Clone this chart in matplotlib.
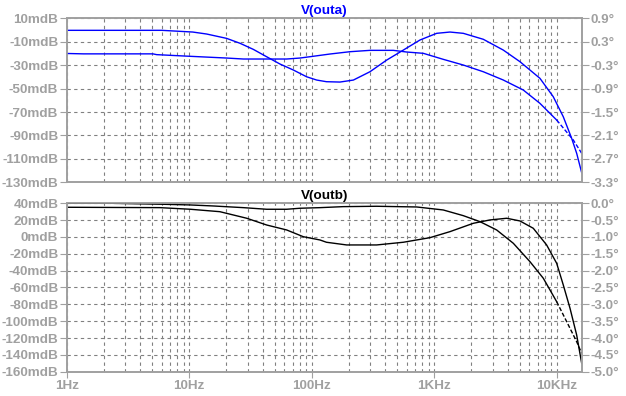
import numpy as np
import matplotlib
matplotlib.use("Agg")
import matplotlib.pyplot as plt
from matplotlib.ticker import FixedLocator, FixedFormatter, LogLocator, NullFormatter

# V(outa): magnitude (mdB) and phase (deg)
freq_a_mag = [1, 5.96, 10.7, 13.9, 20.2, 26.0, 33.4, 42.9, 55.1, 70.8, 91.0, 110, 132, 170, 219,
              299, 410, 560, 766, 1048, 1345, 1729, 2519, 3666, 5012, 7299, 9376, 11320, 13250,
              14560, 16000]
mag_a = [-0.24, -0.24, -1.7, -3.4, -7.1, -11.3, -16.5, -22.8, -29.0, -34.1, -39.9, -42.7, -44.1,
         -44.4, -42.7, -35.6, -25.6, -17.1, -8.5, -2.8, -1.7, -2.8, -7.9, -17.1, -27.0, -41.2,
         -56.9, -74.0, -92.4, -105.2, -121.8]
freq_a_ph = [1, 1.37, 5.06, 5.43, 9.24, 20.2, 27.7, 62.5, 80.2, 96.9, 141, 205, 299, 464, 597,
             815, 1186, 1729, 2519, 3666, 5338, 7299, 10000, 13670, 16000]
phase_a = [0.0, -0.01, -0.01, -0.03, -0.066, -0.117, -0.142, -0.142, -0.117, -0.083, -0.014,
           0.045, 0.080, 0.080, 0.037, 0.004, -0.150, -0.296, -0.468, -0.680, -0.936, -1.277,
           -1.705, -2.217, -2.557]

# V(outb)
freq_b_mag = [1, 5.78, 10.2, 17.8, 29.5, 42.9, 62.5, 85.4, 117, 132, 193, 339, 560, 924, 1345,
              2085, 2852, 3908, 5012, 6442, 8279, 10000, 11320, 12850, 14560, 16000]
mag_b = [35.25, 34.8, 32.9, 30.0, 22.2, 14.2, 8.3, 0.3, -3.6, -6.3, -9.5, -9.5, -6.3, -0.85, 6.3,
         16.2, 20.2, 22.2, 19.0, 10.3, -9.5, -31.3, -57.0, -84.7, -116.4, -150.0]
freq_b_ph = [1, 2.26, 6.15, 10.2, 15.7, 27.7, 42.9, 62.5, 80.2, 117, 181, 339, 720, 1186, 1729,
             2366, 3236, 4426, 6053, 7780, 10000, 12070, 14560, 16000]
phase_b = [0.0, 0.0, -0.03, -0.05, -0.08, -0.13, -0.178, -0.178, -0.148, -0.13, -0.10, -0.089,
           -0.11, -0.199, -0.368, -0.546, -0.793, -1.188, -1.734, -2.227, -2.922, -3.515, -4.109,
           -4.454]

xticks = [1, 10, 100, 1000, 10000]
xlabels = ['1Hz', '10Hz', '100Hz', '1KHz', '10KHz']
ticks_a = [10, -10, -30, -50, -70, -90, -110, -130]
ticks_a_ph = [0.9, 0.3, -0.3, -0.9, -1.5, -2.1, -2.7, -3.3]
ticks_b = list(range(40, -161, -20))
ticks_b_ph = [0.0, -0.5, -1.0, -1.5, -2.0, -2.5, -3.0, -3.5, -4.0, -4.5, -5.0]

GRAY = '#a0a0a0'
GRID = '#808080'
FONT = 'Liberation Sans'
FS = 9.7

fig = plt.figure(figsize=(6.26, 3.96), dpi=100)
ax1 = fig.add_axes([0.1065, 0.5396, 0.8227, 0.4141])
ax2 = fig.add_axes([0.1065, 0.0614, 0.8227, 0.4253])


def style_panel(ax, ticks, ticks_ph, title, color, fm, m, fp, p, show_x):
    axp = ax.twinx()
    ax.set_xscale('log')
    ax.set_xlim(1, 16000)
    ax.set_ylim(ticks[-1], ticks[0])
    axp.set_ylim(ticks_ph[-1], ticks_ph[0])

    ax.yaxis.set_major_locator(FixedLocator(ticks))
    ax.yaxis.set_major_formatter(FixedFormatter([f'{t}mdB' for t in ticks]))
    axp.yaxis.set_major_locator(FixedLocator(ticks_ph))
    axp.yaxis.set_major_formatter(FixedFormatter([f'{t:.1f}°' for t in ticks_ph]))

    ax.xaxis.set_major_locator(FixedLocator(xticks))
    ax.xaxis.set_minor_locator(LogLocator(base=10, subs=np.arange(2, 10)))
    ax.xaxis.set_minor_formatter(NullFormatter())
    if show_x:
        ax.xaxis.set_major_formatter(FixedFormatter(xlabels))
        ax.tick_params(axis='x', which='major', length=4, color=GRAY, labelcolor=GRAY,
                       labelsize=FS, pad=2)
    else:
        ax.xaxis.set_major_formatter(NullFormatter())
        ax.tick_params(axis='x', which='major', length=0)
    ax.tick_params(axis='x', which='minor', length=0)
    axp.tick_params(axis='x', which='both', length=0, labelbottom=False, labeltop=False)

    ax.grid(True, which='both', axis='x', color=GRID, linestyle=(0, (3, 3)), lw=0.8)
    ax.grid(True, which='major', axis='y', color=GRID, linestyle=(0, (3, 3)), lw=0.8)

    for a in (ax, axp):
        a.tick_params(axis='y', length=5, color=GRAY, labelcolor=GRAY, labelsize=FS, pad=1)
        for s in a.spines.values():
            s.set_color(GRAY)
            s.set_linewidth(1.2)
    for lbl in ax.get_xticklabels() + ax.get_yticklabels() + axp.get_yticklabels():
        lbl.set_fontfamily(FONT)
        lbl.set_fontweight('bold')

    ax.set_title(title, color=color, fontsize=FS, fontweight='bold', family=FONT, pad=3)
    ax.plot(fm, m, color=color, lw=1.0)

    fp = np.array(fp)
    p = np.array(p)
    cut = np.searchsorted(fp, 9000)
    axp.plot(fp[:cut + 1], p[:cut + 1], color=color, lw=1.0)
    axp.plot(fp[cut:], p[cut:], color=color, lw=1.0, linestyle=(0, (3, 1.5)))


style_panel(ax1, ticks_a, ticks_a_ph, 'V(outa)', '#0000ff',
            freq_a_mag, mag_a, freq_a_ph, phase_a, False)
style_panel(ax2, ticks_b, ticks_b_ph, 'V(outb)', 'black',
            freq_b_mag, mag_b, freq_b_ph, phase_b, True)

fig.savefig('out.png', dpi=100, facecolor='white')
